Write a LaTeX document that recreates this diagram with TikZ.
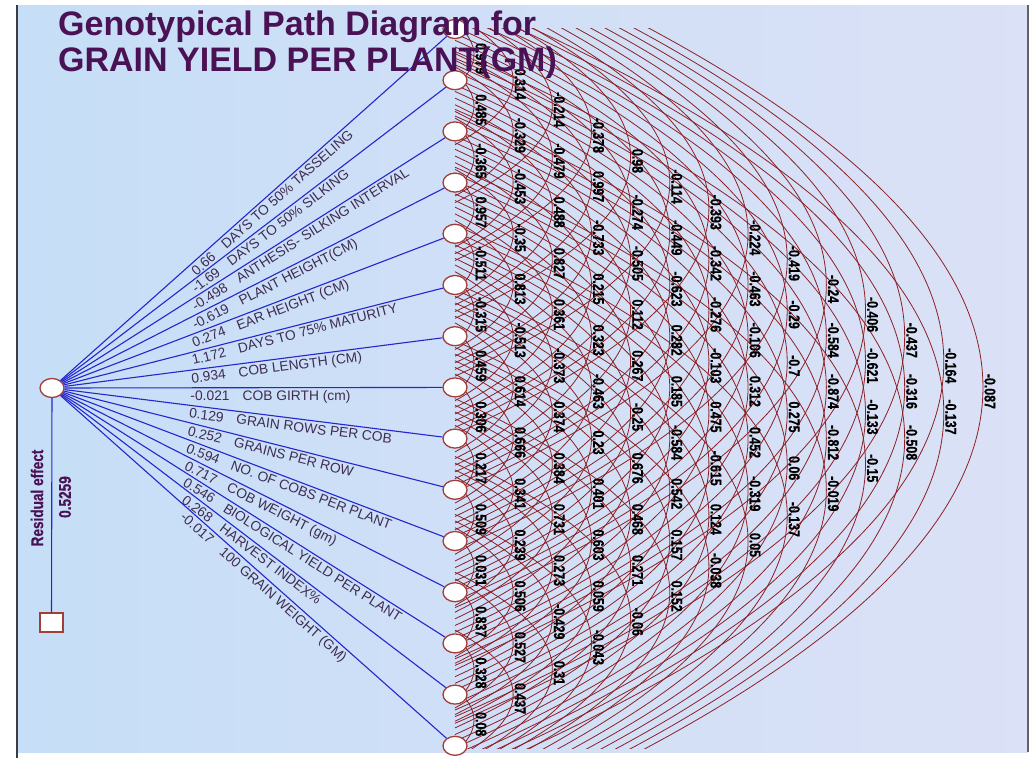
\documentclass[tikz,border=0pt]{standalone}
\usepackage{fontspec}
\setmainfont{Liberation Sans}
\newfontfamily\narrowfont[FakeStretch=0.8, BoldFeatures={FakeBold=0.6}]{Liberation Sans}
\usetikzlibrary{shapes.geometric,calc}

\definecolor{bgL}{RGB}{198,222,247}
\definecolor{bgR}{RGB}{219,225,246}
\definecolor{pathblue}{RGB}{38,38,205}
\definecolor{arcred}{RGB}{140,32,38}
\definecolor{nodeedge}{RGB}{160,62,55}
\definecolor{titlecol}{RGB}{74,18,84}
\definecolor{labelcol}{RGB}{62,44,82}
\definecolor{framecol}{RGB}{60,60,64}

\tikzset{
  varnode/.style={ellipse, draw=nodeedge, line width=1.3pt, fill=white,
    minimum width=24pt, minimum height=19pt, inner sep=0pt},
  resnode/.style={rectangle, draw=nodeedge, line width=1.3pt, fill=white,
    minimum width=23pt, minimum height=19pt, inner sep=0pt},
  pathline/.style={draw=pathblue, line width=1.1pt},
  corrarc/.style={draw=arcred, line width=0.8pt},
  corrlbl/.style={font=\narrowfont\bfseries\fontsize{15.5}{16}\selectfont,
    text=black, rotate=-90, inner sep=0pt},
  pathlbl/.style={font=\fontsize{13.8}{14}\selectfont, text=labelcol,
    inner sep=2.5pt},
  titletxt/.style={font=\bfseries\fontsize{34}{36}\selectfont, text=titlecol,
    inner sep=0pt},
  residtxt/.style={font=\narrowfont\bfseries\fontsize{17}{18}\selectfont,
    text=titlecol, inner sep=0pt, rotate=90}
}

\begin{document}
\begin{tikzpicture}[x=1pt,y=1pt]
\useasboundingbox (0,0) rectangle (1035,-758);
\fill[white] (0,0) rectangle (1035,-758);
% panel background
\shade[left color=bgL, right color=bgR] (17,-5) rectangle (1028,-752);
\draw[framecol, line width=2.5pt] (17,-5) -- (17,-758);
\draw[framecol!80, line width=1.6pt] (1028,-5) -- (1028,-752);

% variable positions
\foreach \i in {1,...,15}
  \coordinate (P\i) at (455, {-(29+(\i-1)*51.2)});

% correlation arcs: parabolic bows between each pair of variables
\begin{scope}
\clip (440,-28) rectangle (1028,-748);
\foreach \i/\j in {1/2,2/3,3/4,4/5,5/6,6/7,7/8,8/9,9/10,10/11,11/12,12/13,13/14,14/15,
  1/3,2/4,3/5,4/6,5/7,6/8,7/9,8/10,9/11,10/12,11/13,12/14,13/15,
  1/4,2/5,3/6,4/7,5/8,6/9,7/10,8/11,9/12,10/13,11/14,12/15,
  1/5,2/6,3/7,4/8,5/9,6/10,7/11,8/12,9/13,10/14,11/15,
  1/6,2/7,3/8,4/9,5/10,6/11,7/12,8/13,9/14,10/15,
  1/7,2/8,3/9,4/10,5/11,6/12,7/13,8/14,9/15,
  1/8,2/9,3/10,4/11,5/12,6/13,7/14,8/15,
  1/9,2/10,3/11,4/12,5/13,6/14,7/15,
  1/10,2/11,3/12,4/13,5/14,6/15,
  1/11,2/12,3/13,4/14,5/15,
  1/12,2/13,3/14,4/15,
  1/13,2/14,3/15,
  1/14,2/15,
  1/15}{
  \pgfmathsetmacro\cx{4*(39.15*(\j-\i)-20.15)/3}
  \draw[corrarc] ($(P\i)!-0.13!(P\j)$)
    .. controls ($(P\i)!0.29!(P\j)+(\cx,0)$) and ($(P\i)!0.71!(P\j)+(\cx,0)$)
    .. ($(P\i)!1.13!(P\j)$);
}
\end{scope}

% correlation values at the arc tips
\foreach \i/\j/\v in {1/2/0.979,2/3/0.485,3/4/-0.365,4/5/0.957,5/6/-0.511,6/7/-0.315,
  7/8/0.459,8/9/0.306,9/10/0.217,10/11/0.509,11/12/0.031,12/13/0.837,13/14/0.328,14/15/0.08,
  1/3/0.314,2/4/-0.329,3/5/-0.453,4/6/-0.35,5/7/0.813,6/8/-0.513,7/9/0.614,8/10/0.666,
  9/11/0.341,10/12/0.239,11/13/0.506,12/14/0.527,13/15/0.437,
  1/4/-0.214,2/5/-0.479,3/6/0.488,4/7/0.827,5/8/0.361,6/9/-0.373,7/10/0.374,8/11/0.384,
  9/12/0.731,10/13/0.273,11/14/-0.429,12/15/0.31,
  1/5/-0.378,2/6/0.997,3/7/-0.733,4/8/0.215,5/9/0.323,6/10/-0.463,7/11/0.23,8/12/0.401,
  9/13/0.603,10/14/0.059,11/15/-0.043,
  1/6/0.98,2/7/-0.274,3/8/-0.505,4/9/0.112,5/10/0.267,6/11/-0.25,7/12/0.676,8/13/0.468,
  9/14/0.271,10/15/-0.06,
  1/7/-0.114,2/8/-0.449,3/9/-0.623,4/10/0.282,5/11/0.185,6/12/-0.584,7/13/0.542,
  8/14/0.157,9/15/0.152,
  1/8/-0.393,2/9/-0.342,3/10/-0.276,4/11/-0.103,5/12/0.475,6/13/-0.615,7/14/0.124,8/15/-0.038,
  1/9/-0.224,2/10/-0.463,3/11/-0.106,4/12/0.312,5/13/0.452,6/14/-0.319,7/15/0.05,
  1/10/-0.419,2/11/-0.29,3/12/-0.7,4/13/0.275,5/14/0.06,6/15/-0.137,
  1/11/-0.24,2/12/-0.584,3/13/-0.874,4/14/-0.812,5/15/-0.019,
  1/12/-0.406,2/13/-0.621,3/14/-0.133,4/15/-0.15,
  1/13/-0.437,2/14/-0.316,3/15/-0.508,
  1/14/-0.164,2/15/-0.137,
  1/15/-0.087}{
  \pgfmathsetmacro\lx{481+39.15*(\j-\i-1)}
  \pgfmathsetmacro\ly{-(29+(\i+\j-2)*25.6+4)}
  \node[corrlbl] (C\i-\j) at (\lx,\ly) {\v};
}

% source, residual and variables
\node[varnode] (S) at (52,-388) {};
\node[resnode] (R) at (51.5,-622.5) {};
\draw[pathline] (S) -- (R);
\foreach \i in {1,...,15}
  \node[varnode] (V\i) at (P\i) {};

\foreach \i/\val/\name in {1/0.66/DAYS TO 50\% TASSELING,
  2/-1.69/DAYS TO 50\% SILKING,
  3/-0.498/ANTHESIS- SILKING INTERVAL,
  4/-0.619/PLANT HEIGHT(CM),
  5/0.274/EAR HEIGHT (CM),
  6/1.172/DAYS TO 75\% MATURITY,
  7/0.934/COB LENGTH (CM),
  8/-0.021/COB GIRTH (cm),
  9/0.129/GRAIN ROWS PER COB,
  10/0.252/GRAINS PER ROW,
  11/0.594/NO. OF COBS PER PLANT,
  12/0.717/COB WEIGHT (gm),
  13/0.546/BIOLOGICAL YIELD PER PLANT,
  14/0.268/HARVEST INDEX\%,
  15/-0.017/100 GRAIN WEIGHT (GM)}{
  \draw[pathline] (S) -- (V\i)
    node[pos=0.325, sloped, anchor=north west, pathlbl] (L\i) {\val\hspace{13pt}\name};
}

\node[residtxt] (RL) at (37,-498) {Residual effect};
\node[residtxt] (RV) at (65,-497) {0.5259};

% heading
\node[titletxt, anchor=base west] (T1) at (58,-35) {Genotypical Path Diagram for};
\node[titletxt, anchor=base west] (T2) at (58,-71) {GRAIN YIELD PER PLANT(GM)};
\end{tikzpicture}
\end{document}
